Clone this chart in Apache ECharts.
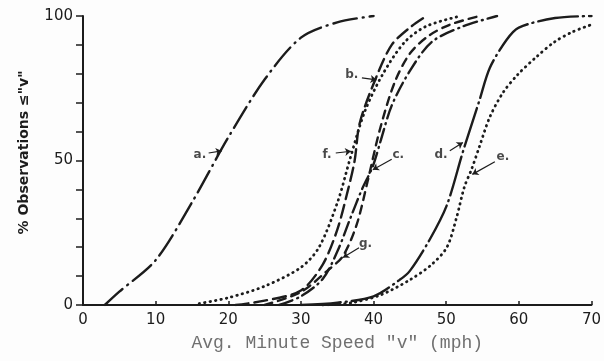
<!DOCTYPE html>
<html>
<head>
<meta charset="utf-8">
<script src="https://cdn.jsdelivr.net/npm/echarts@6/dist/echarts.min.js"></script>
<style>
  html, body { margin: 0; padding: 0; background: #fdfdfd; }
  #chart { width: 604px; height: 361px; }
</style>
</head>
<body>
<div id="chart"></div>
<script>
// Cumulative distributions of average minute speed, curves a–g: [mph, % observations]
const curveA = [[3,0],[5,4.6],[10,15.5],[15,35.5],[20,58],[25,78],[30,92.5],[35,97.8],[40,100]];
const curveB = [[21,0],[25,1.5],[30,5],[33,14],[35,26],[36.5,40],[37.4,50],[38.1,63],[40.4,79],[42.5,90],[45,96],[47.3,100]];
const curveF = [[16,0.5],[20,2.5],[25,6.5],[30,13],[32.5,20],[35.1,36],[36.7,50],[38.8,67],[41.3,80],[44.3,91],[47.3,96.5],[52,100]];
const curveC = [[27,0],[30,3],[33,9],[35.1,19],[36.8,30],[38.4,40],[39.9,48],[41,57],[42.5,69],[45,81],[48,91],[52.3,96.4],[57,100]];
const curveG = [[25,0],[30,4.5],[33.7,12],[35.8,17],[37.7,28],[39.2,43],[40.9,61],[42.9,77],[45,87],[47.5,93],[50.5,97],[54.6,100]];
const curveD = [[30,0],[35,0.8],[40,3],[43.6,8.7],[45,11.8],[47.7,22.5],[50.1,34.6],[52.3,53],[54.6,71],[56,82],[58.3,91.7],[60,96],[65,99.3],[70,100]];
const curveE = [[33,0],[37,0.8],[41,3.5],[45,8.7],[48,14],[50.1,20],[51.4,30],[52.5,40.8],[53.5,47],[54.6,55],[56,65],[57.8,73.4],[59.8,79.6],[62.4,85.8],[64.9,91],[67.4,94.5],[70,97]];

// Curve labels: [mph, %, text] and their pointer lines [from, to]
const labelPoints = [[16.1,51.8,'a.'],[37.0,79.5,'b.'],[33.6,52.0,'f.'],[43.4,52.0,'c.'],[38.9,21.0,'g.'],[49.3,52.0,'d.'],[57.8,51.2,'e.']];
const pointers = [
  [[17.3,52.6],[19.1,53.3]],
  [[38.4,78.6],[40.4,77.9]],
  [[34.8,52.6],[36.9,53.2]],
  [[42.5,50.4],[39.9,46.8]],
  [[38.0,19.8],[35.8,16.4]],
  [[50.5,53.4],[52.3,56.2]],
  [[56.7,49.6],[53.6,45.2]]
];

const xTicks = [0,10,20,30,40,50,60,70];
const yLabels = [0,50,100];

const ink = '#1c1c1c';

function curve(name, data, dash, width) {
  return {
    name: name,
    type: 'line',
    data: data,
    smooth: 0.3,
    showSymbol: false,
    silent: true,
    lineStyle: { color: ink, width: width || 2.4, type: dash, cap: 'round' }
  };
}

const chart = echarts.init(document.getElementById('chart'), null, { renderer: 'canvas' });

const series = [
  curve('a', curveA, [24, 6, 1, 6]),
  curve('b', curveB, [13, 6]),
  curve('f', curveF, [0.5, 5], 2.8),
  curve('c', curveC, [14, 5, 1, 5]),
  curve('g', curveG, [8, 6]),
  curve('d', curveD, [40, 5, 1, 5]),
  curve('e', curveE, [0.5, 5], 2.8),
  {
    name: 'labels',
    type: 'scatter',
    data: labelPoints,
    symbolSize: 0,
    silent: true,
    label: {
      show: true,
      position: 'inside',
      formatter: p => p.value[2],
      color: ink,
      fontFamily: 'DejaVu Sans',
      fontWeight: 'bold',
      fontSize: 12
    },
    markLine: {
      silent: true,
      symbol: ['none', 'arrow'],
      symbolSize: 6,
      label: { show: false },
      lineStyle: { color: ink, width: 1.2, type: 'solid' },
      data: pointers.map(p => [{ coord: p[0] }, { coord: p[1] }])
    }
  }
];

chart.setOption({
  animation: false,
  backgroundColor: '#fdfdfd',
  grid: { left: 83, right: 12, top: 16, bottom: 56 },
  xAxis: {
    type: 'value',
    min: 0,
    max: 70,
    interval: 10,
    name: 'Avg. Minute Speed "v" (mph)',
    nameLocation: 'middle',
    nameGap: 29,
    nameTextStyle: { fontFamily: 'Liberation Mono', fontSize: 18, color: '#707070' },
    axisLine: { lineStyle: { color: ink, width: 2 } },
    axisTick: { show: true, inside: true, length: 4, lineStyle: { color: ink, width: 1.5 } },
    axisLabel: {
      color: ink,
      fontFamily: 'DejaVu Sans',
      fontSize: 15,
      margin: 8,
      formatter: v => (xTicks.indexOf(v) >= 0 ? String(v) : '')
    },
    splitLine: { show: false }
  },
  yAxis: {
    type: 'value',
    min: 0,
    max: 100,
    interval: 10,
    name: '% Observations \u2264"v"',
    nameLocation: 'middle',
    nameGap: 52,
    nameTextStyle: { fontFamily: 'DejaVu Sans', fontWeight: 'bold', fontSize: 14, color: ink, padding: [0, 0, 0, 16] },
    axisLine: { lineStyle: { color: ink, width: 2 } },
    axisTick: { show: true, length: 7, lineStyle: { color: ink, width: 1.5 } },
    axisLabel: {
      color: ink,
      fontFamily: 'DejaVu Sans',
      fontSize: 15,
      margin: 10,
      formatter: v => (yLabels.indexOf(v) >= 0 ? String(v) : '')
    },
    splitLine: { show: false }
  },
  series: series
});
</script>
</body>
</html>
